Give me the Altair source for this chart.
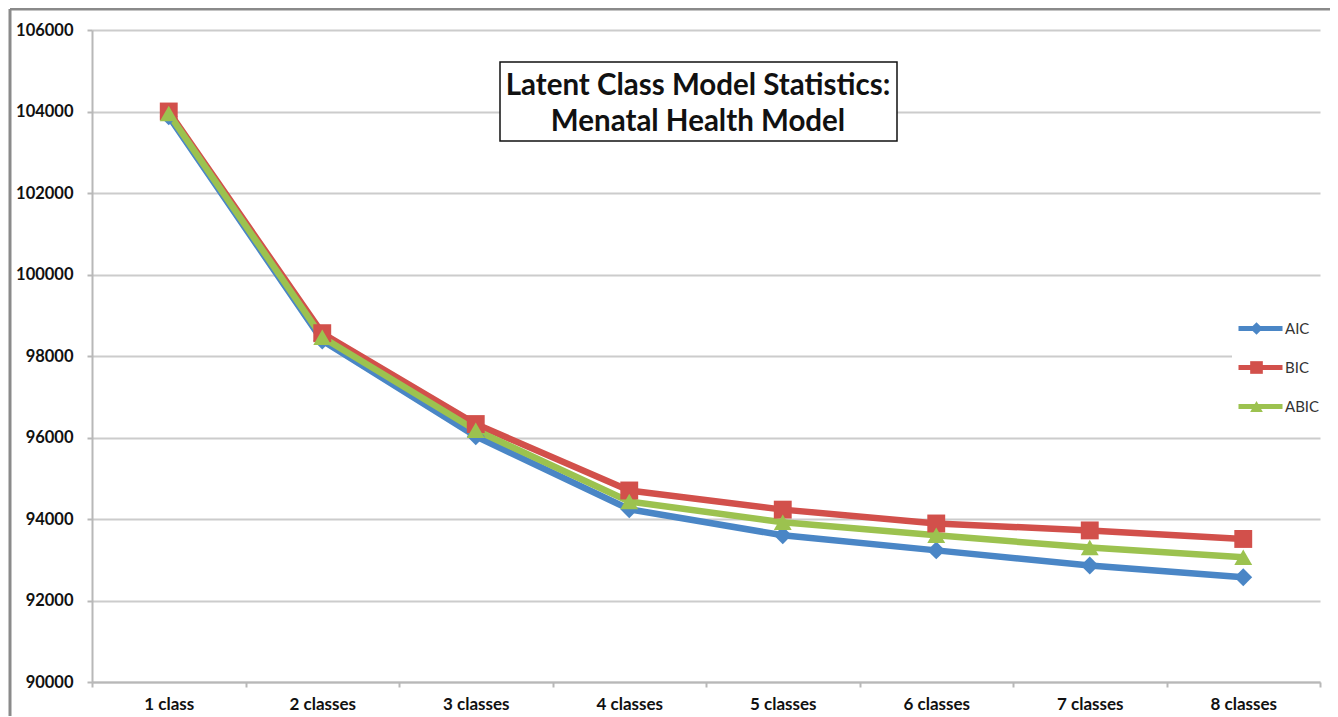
import altair as alt
import pandas as pd

classes = ["1 class", "2 classes", "3 classes", "4 classes",
           "5 classes", "6 classes", "7 classes", "8 classes"]
aic = [103880, 98380, 96030, 94240, 93600, 93230, 92860, 92570]
bic = [104000, 98560, 96330, 94700, 94230, 93890, 93720, 93510]
abic = [103950, 98460, 96180, 94430, 93920, 93600, 93300, 93060]
series_names = ["AIC", "BIC", "ABIC"]
series_colors = ["#4A86C6", "#D2504B", "#9CC24F"]
series_shapes = ["diamond", "square", "triangle-up"]
title_lines = ["Latent Class Model Statistics:", "Menatal Health Model"]
y_ticks = [90000, 92000, 94000, 96000, 98000, 100000, 102000, 104000, 106000]

rows = []
for name, vals in zip(series_names, [aic, bic, abic]):
    for c, v in zip(classes, vals):
        rows.append({"classes": c, "value": v, "series": name, "marker": name + " "})
df = pd.DataFrame(rows)
marker_names = [n + " " for n in series_names]

FONT = "Lato"
AXIS_GRAY = "#b8b8b8"

x_enc = alt.X(
    "classes:N", sort=classes,
    scale=alt.Scale(type="band", paddingInner=0, paddingOuter=0),
    axis=alt.Axis(title=None, labelAngle=0, tickBand="extent", grid=False,
                  labelFont=FONT, labelFontWeight="bold", labelFontSize=17,
                  labelColor="#111111", labelPadding=9, tickSize=5,
                  tickColor=AXIS_GRAY, tickWidth=2, domainColor=AXIS_GRAY,
                  domainWidth=2),
)
y_enc = alt.Y(
    "value:Q",
    scale=alt.Scale(domain=[90000, 106000], nice=False, zero=False),
    axis=alt.Axis(title=None, values=y_ticks, format="d", grid=True,
                  gridColor="#cccccc", gridWidth=2, tickSize=5,
                  tickColor=AXIS_GRAY, tickWidth=2, domainColor=AXIS_GRAY,
                  domainWidth=2, labelFont=FONT, labelFontWeight="bold",
                  labelFontSize=16.5, labelColor="#111111", labelPadding=14),
)

base = alt.Chart(df)

lines = base.mark_line(strokeWidth=6.5, strokeJoin="round").encode(
    x=x_enc, y=y_enc,
    stroke=alt.Stroke(
        "series:N",
        scale=alt.Scale(domain=series_names, range=series_colors),
        legend=alt.Legend(title=None, orient="none", legendX=1140, legendY=275,
                          symbolType="stroke", symbolSize=1936,
                          symbolStrokeWidth=5, labelFont=FONT, labelFontSize=15,
                          labelColor="#333333", labelOffset=0, clipHeight=39,
                          rowPadding=0, fillColor="white", padding=4, zindex=1),
    ),
)

marker_legend = alt.Legend(title=None, orient="none", legendX=1154, legendY=275,
                           symbolSize=160, symbolStrokeWidth=0,
                           labelExpr="''", labelFontSize=1,
                           clipHeight=39, rowPadding=0, padding=4, zindex=2)

points = base.mark_point(filled=True, size=320, opacity=1).encode(
    x=x_enc, y=y_enc,
    fill=alt.Fill("marker:N",
                  scale=alt.Scale(domain=marker_names, range=series_colors),
                  legend=marker_legend),
    shape=alt.Shape("marker:N",
                    scale=alt.Scale(domain=marker_names, range=series_shapes),
                    legend=marker_legend),
)

one = alt.Chart(pd.DataFrame({"k": [0]}))
title_box = one.mark_rect(fill="white", stroke="#111111", strokeWidth=1.5).encode(
    x=alt.value(408), x2=alt.value(805), y=alt.value(32), y2=alt.value(111)
)
title_text = one.mark_text(
    text=title_lines, font=FONT, fontWeight="bold", fontSize=29.5,
    color="#111111", align="center", baseline="middle", lineHeight=36
).encode(x=alt.value(606), y=alt.value(56))

frame_left = one.mark_rule(color="#8a8a8a", strokeWidth=3).encode(
    x=alt.value(-82), y=alt.value(-21), y2=alt.value(700)
)
frame_top = one.mark_rule(color="#8a8a8a", strokeWidth=3).encode(
    x=alt.value(-82), x2=alt.value(1240), y=alt.value(-21)
)

chart = alt.layer(frame_left, frame_top, lines, points, title_box, title_text).properties(
    width=1228, height=652,
    autosize=alt.AutoSizeParams(type="none"),
    padding={"left": 84, "top": 22, "right": 10, "bottom": 34},
).configure_view(stroke=None)

chart.save("out.html", embed_options={"renderer": "svg", "actions": False})
